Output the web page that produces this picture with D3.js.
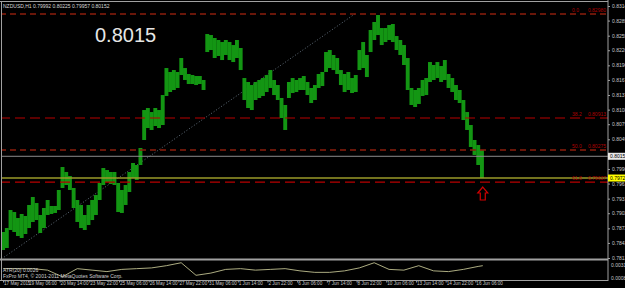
<!DOCTYPE html>
<html>
<head>
<meta charset="utf-8">
<script src="https://cdn.jsdelivr.net/npm/d3@7"></script>
<style>
  body { margin: 0; background: #000; }
  svg { display: block; font-family: "Liberation Sans Narrow", "Liberation Sans", Arial, sans-serif; }
</style>
</head>
<body>
<svg id="chart"></svg>
<script>
// NZDUSD H1 in 4-hour blocks (block k starts at bar 4*k)
const blockHighs = [
  0.78647, 0.78726, 0.79084, 0.79044, 0.78925, 0.79005, 0.78965, 0.79184, 0.79343, 0.79223,
  0.78985, 0.79124, 0.79283, 0.79164, 0.79164, 0.79482, 0.79939, 0.79840, 0.79760, 0.79522,
  0.79283, 0.79184, 0.78985, 0.79184, 0.79283, 0.79382, 0.79621, 0.79919, 0.79879, 0.79840,
  0.79840, 0.79621, 0.79482, 0.79581, 0.79840, 0.80019, 0.79979, 0.80317, 0.81072, 0.81112,
  0.81032, 0.81112, 0.81072, 0.81370, 0.81907, 0.81828, 0.81867, 0.81828, 0.82106, 0.81907,
  0.81788, 0.81768, 0.81748, 0.81748, 0.81669, 0.82583, 0.82563, 0.82504, 0.82464, 0.82424,
  0.82464, 0.82424, 0.82364, 0.82464, 0.82305, 0.81708, 0.81629, 0.81569, 0.81629, 0.81669,
  0.81708, 0.81768, 0.81867, 0.81669, 0.81569, 0.81311, 0.81172, 0.81629, 0.81708, 0.81669,
  0.81708, 0.81748, 0.81629, 0.81510, 0.81569, 0.81788, 0.81828, 0.82225, 0.82265, 0.82166,
  0.82106, 0.81867, 0.81788, 0.81828, 0.81708, 0.81768, 0.82265, 0.82424, 0.82166, 0.82663,
  0.82822, 0.82961, 0.82702, 0.82702, 0.82762, 0.82782, 0.82543, 0.82464, 0.82364, 0.82106,
  0.81510, 0.81470, 0.81510, 0.81669, 0.81708, 0.82026, 0.81967, 0.82026, 0.81947, 0.82066,
  0.81788, 0.81708, 0.81569, 0.81470, 0.81271, 0.81032, 0.80774, 0.80476, 0.80376, 0.80277
];
const blockLows = [
  0.78289, 0.78329, 0.78687, 0.78647, 0.78567, 0.78528, 0.78607, 0.78726, 0.78846, 0.78885,
  0.78627, 0.78726, 0.78985, 0.79005, 0.79025, 0.79084, 0.79522, 0.79581, 0.79482, 0.79124,
  0.78846, 0.78726, 0.78687, 0.78786, 0.78885, 0.78985, 0.79283, 0.79581, 0.79641, 0.79601,
  0.79581, 0.79044, 0.79025, 0.79184, 0.79442, 0.79720, 0.79681, 0.79979, 0.80476, 0.80714,
  0.80675, 0.80754, 0.80714, 0.80774, 0.81351, 0.81430, 0.81470, 0.81510, 0.81768, 0.81669,
  0.81589, 0.81589, 0.81569, 0.81589, 0.81470, 0.82225, 0.82265, 0.82106, 0.82146, 0.82066,
  0.82166, 0.82066, 0.82026, 0.82106, 0.81867, 0.81271, 0.81112, 0.81072, 0.81271, 0.81311,
  0.81351, 0.81430, 0.81510, 0.81370, 0.81271, 0.80913, 0.80675, 0.81311, 0.81410, 0.81430,
  0.81470, 0.81470, 0.81370, 0.81211, 0.81271, 0.81510, 0.81549, 0.81828, 0.81907, 0.81867,
  0.81788, 0.81569, 0.81430, 0.81470, 0.81410, 0.81430, 0.81867, 0.81907, 0.81728, 0.82225,
  0.82464, 0.82563, 0.82364, 0.82424, 0.82464, 0.82424, 0.82265, 0.82166, 0.81967, 0.81470,
  0.81172, 0.81132, 0.81192, 0.81351, 0.81370, 0.81629, 0.81669, 0.81708, 0.81629, 0.81669,
  0.81510, 0.81430, 0.81271, 0.81211, 0.80873, 0.80675, 0.80337, 0.80178, 0.79979, 0.79720
];

const priceTicks = [0.83140, 0.82850, 0.82550, 0.82260, 0.81960, 0.81670, 0.81370, 0.81080, 0.80790,
                    0.80490, 0.80200, 0.79900, 0.79610, 0.79310, 0.79020, 0.78720, 0.78430, 0.78130];

const timeTickBars = [0, 27, 61, 93, 125, 157, 189, 221, 253, 285, 317, 349, 381, 413, 445, 477, 509];
const timeLabels = ["17 May 2011", "19 May 06:00", "20 May 14:00", "23 May 22:00", "25 May 06:00",
                    "26 May 14:00", "27 May 22:00", "31 May 06:00", "1 Jun 14:00", "2 Jun 22:00",
                    "6 Jun 06:00", "7 Jun 14:00", "8 Jun 22:00", "10 Jun 06:00", "13 Jun 14:00",
                    "14 Jun 22:00", "16 Jun 06:00"];

// ATR(20) sub window
const atrBars = [0, 16, 32, 48, 64, 80, 96, 112, 128, 144, 160, 176, 192, 208, 224, 240, 256, 272,
                 288, 304, 320, 336, 352, 368, 384, 400, 416, 432, 448, 464, 480, 496, 512, 517];
const atrValues = [0.0022, 0.0022, 0.0022, 0.0020, 0.0011, 0.0022, 0.0020, 0.0018, 0.0021, 0.0022,
                   0.0023, 0.0026, 0.0030, 0.0013, 0.0016, 0.0021, 0.0022, 0.0020, 0.0021, 0.0022,
                   0.0019, 0.0017, 0.0017, 0.0019, 0.0023, 0.0030, 0.0021, 0.0020, 0.0026, 0.0019,
                   0.0018, 0.0021, 0.0025, 0.0026];
const atrTicks = [0.0031, 0.0008];

// fibonacci retracement, anchors (bar, price)
const fibLevels = [0, 38.2, 50, 61.8];
const fibAnchorBars = [-44, 379];
const fibAnchorPrices = [0.7757, 0.8298];

const bidPrice = 0.80152;
const hLinePrice = 0.79720;
const lastBar = 517;
const ohlc = ["0.79992", "0.80225", "0.79957", "0.80152"];

const W = 625, H = 288;
const svg = d3.select("#chart").attr("width", W).attr("height", H);
svg.append("rect").attr("width", W).attr("height", H).attr("fill", "#000");

const x = d3.scaleLinear().domain([0, lastBar]).range([3, 3 + lastBar * 0.928]);
const y = d3.scaleLinear().domain([0.78130, 0.83140]).range([258, 6]);
const yAtr = d3.scaleLinear().domain([0.0008, 0.0031]).range([279, 262]);

svg.append("clipPath").attr("id", "mainClip")
   .append("rect").attr("x", 2).attr("y", 2).attr("width", 606).attr("height", 256);

const main = svg.append("g").attr("clip-path", "url(#mainClip)");

// fib trend line (dotted)
main.append("line")
    .attr("x1", x(fibAnchorBars[0])).attr("y1", y(fibAnchorPrices[0]))
    .attr("x2", x(fibAnchorBars[1])).attr("y2", y(fibAnchorPrices[1]))
    .attr("stroke", "#7a8a9a").attr("stroke-dasharray", "1,2").attr("stroke-width", 0.8);

// price blocks
const bw = x(4) - x(0);
main.selectAll("rect.bar")
    .data(blockHighs)
    .join("rect")
    .attr("class", "bar")
    .attr("x", (d, k) => x(4 * k) - bw / 2)
    .attr("width", bw + 0.2)
    .attr("y", d => y(d))
    .attr("height", (d, k) => y(blockLows[k]) - y(d))
    .attr("fill", "#139613");

// bid line and horizontal line
main.append("line").attr("x1", 0).attr("x2", 608)
    .attr("y1", y(bidPrice)).attr("y2", y(bidPrice))
    .attr("stroke", "#8c8c8c").attr("stroke-width", 1);
main.append("line").attr("x1", 0).attr("x2", 608)
    .attr("y1", y(hLinePrice)).attr("y2", y(hLinePrice))
    .attr("stroke", "#9a9a28").attr("stroke-width", 1.5);

// fib levels
const fibRange = fibAnchorPrices[1] - fibAnchorPrices[0];
fibLevels.forEach(lv => {
  const p = fibAnchorPrices[1] - lv / 100 * fibRange;
  const bright = (lv === 38.2 || lv === 61.8);
  main.append("line").attr("x1", 0).attr("x2", 608)
      .attr("y1", y(p)).attr("y2", y(p))
      .attr("stroke", bright ? "#b80000" : "#8c1e0c")
      .attr("stroke-width", bright ? 1.2 : 1.5)
      .attr("stroke-dasharray", bright ? "10,5" : "6,4");
  main.append("text").attr("x", 572).attr("y", y(p) - 2)
      .attr("fill", "#b00000").attr("font-size", 5)
      .text(lv === 0 ? "0.0" : lv.toFixed(1));
  main.append("text").attr("x", 606).attr("y", y(p) - 2)
      .attr("text-anchor", "end")
      .attr("fill", "#b00000").attr("font-size", 5)
      .text(p.toFixed(5));
});

// arrow under the last bar
const ax = x(lastBar), ay = y(blockLows[blockLows.length - 1]) + 9;
main.append("path")
    .attr("d", `M${ax},${ay} L${ax + 5},${ay + 6} L${ax + 2.5},${ay + 6} L${ax + 2.5},${ay + 13}
                L${ax - 2.5},${ay + 13} L${ax - 2.5},${ay + 6} L${ax - 5},${ay + 6} Z`)
    .attr("fill", "none").attr("stroke", "#d00000").attr("stroke-width", 1.2);

// title and big price
svg.append("text").attr("x", 3).attr("y", 7.5).attr("fill", "#d8d8d8").attr("font-size", 5)
   .text("NZDUSD,H1  " + ohlc.join(" "));
svg.append("text").attr("x", 95).attr("y", 42)
   .attr("fill", "#e6e6e6").attr("font-size", 20).attr("font-family", "'Liberation Sans', Arial, sans-serif")
   .text("0.8015");

// ATR line
const atrLine = d3.line().x((d, i) => x(atrBars[i])).y(d => yAtr(d));
svg.append("path").datum(atrValues)
   .attr("d", atrLine).attr("fill", "none")
   .attr("stroke", "#c0c090").attr("stroke-width", 0.9);

svg.append("text").attr("x", 3).attr("y", 271.5).attr("fill", "#d0d0d0").attr("font-size", 5)
   .text("ATR(20) " + atrValues[atrValues.length - 1].toFixed(4));
svg.append("text").attr("x", 3).attr("y", 278).attr("fill", "#d0d0d0").attr("font-size", 5)
   .text("FxPro MT4, \u00a9 2001-2011 MetaQuotes Software Corp.");

// frame
const frame = svg.append("g").attr("stroke", "#a0a0a0").attr("fill", "none");
frame.append("line").attr("x1", 0).attr("x2", 608).attr("y1", 1.5).attr("y2", 1.5);
frame.append("line").attr("x1", 1.5).attr("x2", 1.5).attr("y1", 1).attr("y2", 280);
frame.append("line").attr("x1", 608).attr("x2", 608).attr("y1", 0).attr("y2", 281);
frame.append("line").attr("x1", 0).attr("x2", 608).attr("y1", 259.5).attr("y2", 259.5).attr("stroke-width", 2);
frame.append("line").attr("x1", 0).attr("x2", 608).attr("y1", 280.5).attr("y2", 280.5);

// right price axis (the label under the bid box is hidden, as in the terminal)
const shownTicks = priceTicks.filter(p => Math.abs(y(p) - y(bidPrice)) > 5);
const yAxis = svg.append("g").attr("transform", "translate(608,0)")
  .call(d3.axisRight(y).tickValues(shownTicks).tickFormat(d3.format(".5f")).tickSize(2).tickPadding(2));
yAxis.select(".domain").remove();
yAxis.attr("font-size", 5).attr("font-family", null);
yAxis.selectAll("text").attr("fill", "#c8c8c8");
yAxis.selectAll("line").attr("stroke", "#a0a0a0");

const atrAxis = svg.append("g").attr("transform", "translate(608,0)")
  .call(d3.axisRight(yAtr).tickValues(atrTicks).tickFormat(d3.format(".4f")).tickSize(0).tickPadding(3));
atrAxis.select(".domain").remove();
atrAxis.attr("font-size", 5).attr("font-family", null);
atrAxis.selectAll("text").attr("fill", "#c8c8c8").attr("dy", (d, i) => i === 0 ? "0.9em" : "0.1em");

// price labels on the axis
function axisBox(price, bg) {
  svg.append("rect").attr("x", 608).attr("y", y(price) - 3.5).attr("width", 20).attr("height", 7).attr("fill", bg);
  svg.append("text").attr("x", 610).attr("y", y(price) + 2).attr("font-size", 5).attr("fill", "#000")
     .text(price.toFixed(5));
}
axisBox(bidPrice, "#e8e8e8");
axisBox(hLinePrice, "#ffff00");

// time axis
const xAxis = svg.append("g").attr("transform", "translate(0,280.5)")
  .call(d3.axisBottom(x).tickValues(timeTickBars).tickFormat((d, i) => timeLabels[i]).tickSize(2));
xAxis.select(".domain").remove();
xAxis.attr("font-size", 4.6).attr("font-family", null);
xAxis.selectAll("line").attr("stroke", "#a0a0a0");
xAxis.selectAll("text").attr("fill", "#c8c8c8").attr("text-anchor", "start")
     .attr("y", 1.5).attr("dy", "0.71em").attr("dx", 0.5);
</script>
</body>
</html>
